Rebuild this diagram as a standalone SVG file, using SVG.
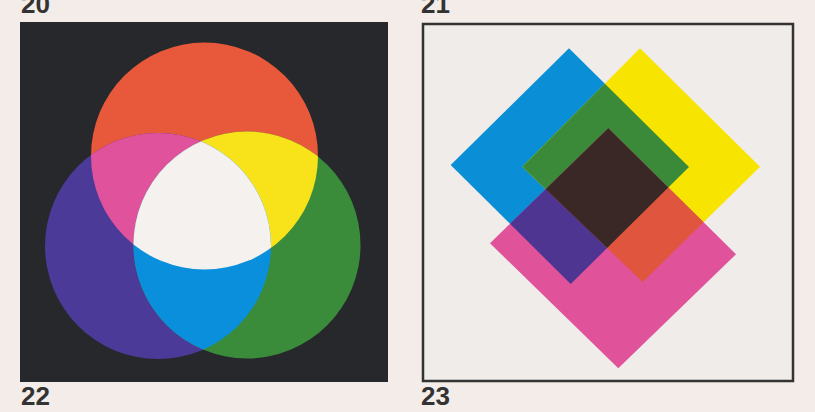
<svg xmlns="http://www.w3.org/2000/svg" xmlns:xlink="http://www.w3.org/1999/xlink" width="815" height="412" viewBox="0 0 815 412">
  <style>
    .lbl { font-family: "Liberation Sans", Arial, sans-serif; font-weight: bold; font-size: 26px; fill: #333333; }
  </style>
  <defs>
    <circle id="cR" cx="204.5" cy="156" r="113.5"/>
    <circle id="cB" cx="158" cy="246" r="113"/>
    <circle id="cG" cx="247" cy="245" r="113.5"/>
    <clipPath id="clipR"><use xlink:href="#cR"/></clipPath>
    <clipPath id="clipB"><use xlink:href="#cB"/></clipPath>
    <clipPath id="clipG"><use xlink:href="#cG"/></clipPath>

    <polygon id="dC" points="569,48.3 689,167 570.7,284 450.7,165"/>
    <polygon id="dY" points="640,48.3 760,166.7 642.7,282 522.3,166.7"/>
    <polygon id="dM" points="608.3,128.3 736,254.3 618.3,368.3 490,243.3"/>
    <clipPath id="clipC"><use xlink:href="#dC"/></clipPath>
    <clipPath id="clipY"><use xlink:href="#dY"/></clipPath>
    <clipPath id="clipM"><use xlink:href="#dM"/></clipPath>
  </defs>

  <rect x="0" y="0" width="815" height="412" fill="#f3ece8"/>

  <text class="lbl" x="21" y="13">20</text>
  <text class="lbl" x="421" y="13">21</text>
  <text class="lbl" x="21" y="405">22</text>
  <text class="lbl" x="421" y="405">23</text>

  <!-- Panel 22: additive light mixing -->
  <g id="panel22">
    <rect x="20" y="22" width="368" height="360" fill="#26282c"/>
    <use xlink:href="#cR" fill="#e8583a"/>
    <use xlink:href="#cB" fill="#4b3a98"/>
    <use xlink:href="#cG" fill="#3a8c3a"/>
    <g clip-path="url(#clipR)"><use xlink:href="#cB" fill="#e0529c"/></g>
    <g clip-path="url(#clipR)"><use xlink:href="#cG" fill="#f8e21a"/></g>
    <g clip-path="url(#clipB)"><use xlink:href="#cG" fill="#0a8fdc"/></g>
    <g clip-path="url(#clipR)"><g clip-path="url(#clipB)"><use xlink:href="#cG" fill="#f5f1ef"/></g></g>
  </g>

  <!-- Panel 23: subtractive colour mixing -->
  <g id="panel23">
    <rect x="423" y="24" width="370" height="357" fill="#efecea" stroke="#333333" stroke-width="2.5"/>
    <use xlink:href="#dC" fill="#0a8fd6"/>
    <use xlink:href="#dY" fill="#f7e400"/>
    <use xlink:href="#dM" fill="#e0529a"/>
    <g clip-path="url(#clipC)"><use xlink:href="#dY" fill="#3a8a3a"/></g>
    <g clip-path="url(#clipC)"><use xlink:href="#dM" fill="#4e3592"/></g>
    <g clip-path="url(#clipY)"><use xlink:href="#dM" fill="#e0553e"/></g>
    <g clip-path="url(#clipC)"><g clip-path="url(#clipY)"><use xlink:href="#dM" fill="#3a2826"/></g></g>
  </g>
</svg>
